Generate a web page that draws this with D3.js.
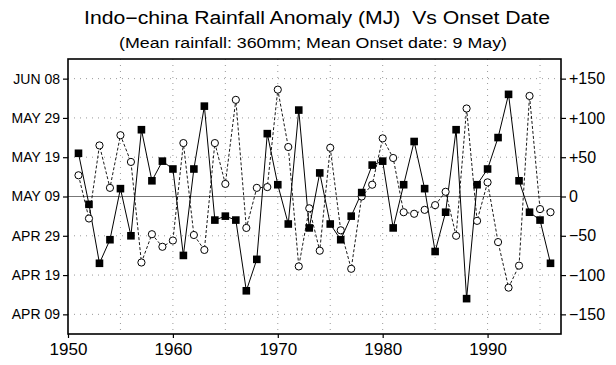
<!DOCTYPE html>
<html>
<head>
<meta charset="utf-8">
<script src="https://cdn.jsdelivr.net/npm/d3@7"></script>
<style>
  body { margin: 0; background: #fff; }
  text { font-family: "Liberation Sans", Arial, sans-serif; fill: #000; }
</style>
</head>
<body>
<svg id="chart" width="616" height="365"></svg>
<script>
// years of record
var years = [1951, 1952, 1953, 1954, 1955, 1956, 1957, 1958, 1959, 1960,
             1961, 1962, 1963, 1964, 1965, 1966, 1967, 1968, 1969, 1970,
             1971, 1972, 1973, 1974, 1975, 1976, 1977, 1978, 1979, 1980,
             1981, 1982, 1983, 1984, 1985, 1986, 1987, 1988, 1989, 1990,
             1991, 1992, 1993, 1994, 1995, 1996];

// onset date, days after 9 May (filled squares, solid line)
var onsetDays = [11, -2, -17, -11, 2, -10, 17, 4, 9, 7,
                 -15, 7, 23, -6, -5, -6, -24, -16, 16, 3,
                 -7, 22, -8, 6, -7, -11, -5, 1, 8, 9,
                 -8, 3, 14, 2, -14, -4, 17, -26, 3, 7,
                 15, 26, 4, -4, -6, -17];

// rainfall anomaly, mm (open circles, dashed line)
var rainAnom = [27, -28, 65, 11, 78, 44, -84, -48, -64, -56,
                68, -49, -68, 68, 16, 123, -40, 11, 12, 136,
                63, -89, -15, -69, 62, -43, -92, 0, 15, 74,
                49, -20, -22, -17, -11, 6, -50, 112, -31, 18,
                -58, -116, -88, 128, -16, -20];

var dateTicks = [-30, -20, -10, 0, 10, 20, 30];
var rainTicks = [-150, -100, -50, 0, 50, 100, 150];
var yearTicks = [1950, 1960, 1970, 1980, 1990];
var gridYears = [1955, 1960, 1965, 1970, 1975, 1980, 1985, 1990, 1995];

var svg = d3.select("#chart");
var plotL = 68, plotR = 561, plotT = 59, plotB = 334;

var x = d3.scaleLinear().domain([1950, 1997]).range([plotL, plotR]);
var yRain = d3.scaleLinear().domain([-175, 175]).range([plotB, plotT]);
var yDay = d3.scaleLinear().domain([-35, 35]).range([plotB, plotT]);

var meanOnset = new Date(Date.UTC(1990, 4, 9));
var fmtDate = d3.utcFormat("%b %d");
function dayLabel(d) {
    return fmtDate(d3.utcDay.offset(meanOnset, d)).toUpperCase();
}

// titles
svg.append("text")
    .attr("x", 317).attr("y", 24)
    .attr("text-anchor", "middle")
    .attr("font-size", 18)
    .attr("textLength", 466).attr("lengthAdjust", "spacingAndGlyphs")
    .text("Indo\u2212china Rainfall Anomaly (MJ)\u00a0\u00a0Vs Onset Date");

svg.append("text")
    .attr("x", 313).attr("y", 48)
    .attr("text-anchor", "middle")
    .attr("font-size", 14)
    .attr("textLength", 388).attr("lengthAdjust", "spacingAndGlyphs")
    .text("(Mean rainfall: 360mm; Mean Onset date: 9 May)");

// dotted grid
var grid = svg.append("g").attr("stroke", "#999").attr("stroke-width", 1).attr("stroke-dasharray", "1,5");
grid.selectAll(".gh").data(rainTicks.filter(function(d){ return d != 0; })).enter().append("line")
    .attr("x1", plotL).attr("x2", plotR)
    .attr("y1", function(d){ return yRain(d); }).attr("y2", function(d){ return yRain(d); });
grid.selectAll(".gv").data(gridYears).enter().append("line")
    .attr("y1", plotT).attr("y2", plotB)
    .attr("x1", function(d){ return x(d); }).attr("x2", function(d){ return x(d); });

// zero line
svg.append("line")
    .attr("x1", plotL).attr("x2", plotR)
    .attr("y1", yRain(0)).attr("y2", yRain(0))
    .attr("stroke", "#777").attr("stroke-width", 1);

// axes
var leftAxis = d3.axisLeft(yDay).tickValues(dateTicks).tickFormat(dayLabel).tickSize(5).tickPadding(3);
var rightAxis = d3.axisRight(yRain).tickValues(rainTicks)
    .tickFormat(function(d){ return d > 0 ? "+" + d : (d < 0 ? "\u2212" + Math.abs(d) : "0"); })
    .tickSize(5).tickPadding(3);
var bottomAxis = d3.axisBottom(x).tickValues(yearTicks).tickFormat(d3.format("d")).tickSize(4).tickPadding(5);

svg.append("g").attr("transform", "translate(" + plotL + ",0)").call(leftAxis)
    .attr("font-size", 14).attr("font-family", null);
svg.append("g").attr("transform", "translate(" + plotR + ",0)").call(rightAxis)
    .attr("font-size", 16).attr("font-family", null);
svg.append("g").attr("transform", "translate(0," + plotB + ")").call(bottomAxis)
    .attr("font-size", 17).attr("font-family", null);
svg.selectAll(".domain").remove();
svg.selectAll(".tick line").attr("stroke", "#000").attr("stroke-width", 1.2);

// frame
svg.append("rect")
    .attr("x", plotL).attr("y", plotT)
    .attr("width", plotR - plotL).attr("height", plotB - plotT)
    .attr("fill", "none").attr("stroke", "#000").attr("stroke-width", 1.6);

// rainfall series (dashed, open circles)
var rainLine = d3.line()
    .x(function(d, i){ return x(years[i]); })
    .y(function(d){ return yRain(d); });
svg.append("path").datum(rainAnom)
    .attr("d", rainLine)
    .attr("fill", "none").attr("stroke", "#000").attr("stroke-width", 0.9)
    .attr("stroke-dasharray", "3,2");

// onset series (solid, filled squares)
var onsetLine = d3.line()
    .x(function(d, i){ return x(years[i]); })
    .y(function(d){ return yDay(d); });
svg.append("path").datum(onsetDays)
    .attr("d", onsetLine)
    .attr("fill", "none").attr("stroke", "#000").attr("stroke-width", 1);

svg.selectAll(".circ").data(rainAnom).enter().append("circle")
    .attr("cx", function(d, i){ return x(years[i]); })
    .attr("cy", function(d){ return yRain(d); })
    .attr("r", 3.6)
    .attr("fill", "#fff").attr("stroke", "#000").attr("stroke-width", 1);

svg.selectAll(".sq").data(onsetDays).enter().append("rect")
    .attr("x", function(d, i){ return x(years[i]) - 3.8; })
    .attr("y", function(d){ return yDay(d) - 3.8; })
    .attr("width", 7.6).attr("height", 7.6)
    .attr("fill", "#000");
</script>
</body>
</html>
